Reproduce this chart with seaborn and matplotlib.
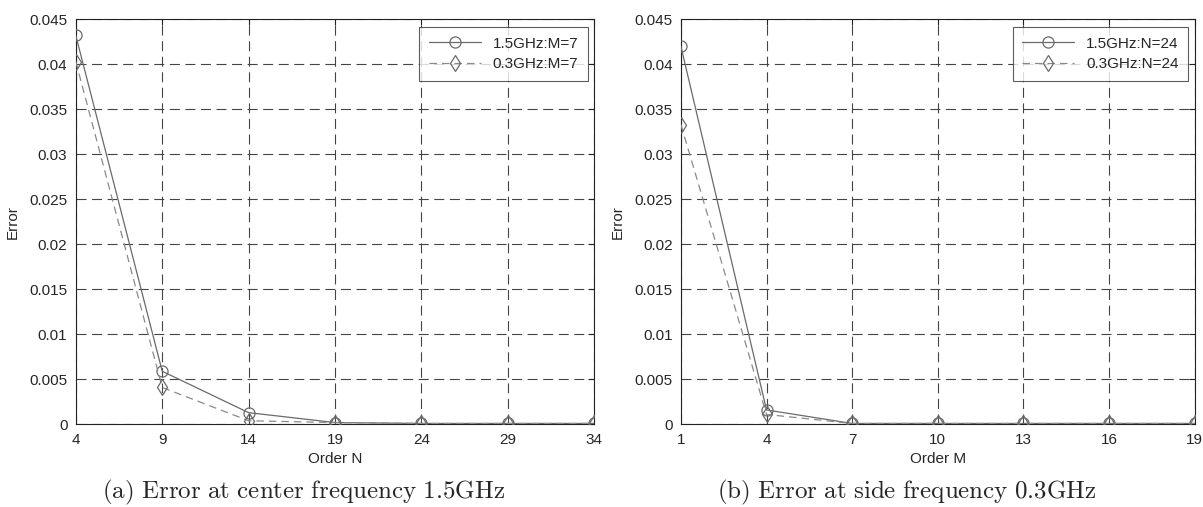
import pandas as pd
import matplotlib
matplotlib.use("Agg")
import matplotlib.pyplot as plt
import seaborn as sns

# data
order_n = [4, 9, 14, 19, 24, 29, 34]
err_n_15 = [0.0432, 0.0059, 0.0013, 0.0002, 0.0001, 0.0001, 0.0001]
err_n_03 = [0.0403, 0.0041, 0.0004, 0.0002, 0.0001, 0.0001, 0.0001]

order_m = [1, 4, 7, 10, 13, 16, 19]
err_m_15 = [0.0420, 0.0016, 0.0001, 0.0001, 0.0001, 0.0001, 0.0001]
err_m_03 = [0.0333, 0.0011, 0.0001, 0.0001, 0.0001, 0.0001, 0.0001]

labels_left = ["1.5GHz:M=7", "0.3GHz:M=7"]
labels_right = ["1.5GHz:N=24", "0.3GHz:N=24"]
y_ticks = [0, 0.005, 0.01, 0.015, 0.02, 0.025, 0.03, 0.035, 0.04, 0.045]
captions = ["(a) Error at center frequency 1.5GHz", "(b) Error at side frequency 0.3GHz"]

sns.set_style("white")
plt.rcParams["font.family"] = ["Liberation Sans", "DejaVu Sans"]
plt.rcParams["mathtext.fontset"] = "cm"


def draw(ax, x, y1, y2, names, xlabel, caption):
    # solid line with open circles
    sns.lineplot(x=x, y=y1, ax=ax, label=names[0], color="#6a6a6a",
                 linestyle="-", linewidth=0.9, marker="o", markersize=8,
                 markerfacecolor="none", markeredgecolor="#6a6a6a",
                 markeredgewidth=0.9, zorder=3)
    # dashed line with open diamonds
    sns.lineplot(x=x, y=y2, ax=ax, label=names[1], color="#8a8a8a",
                 linestyle=(0, (6, 4)), linewidth=0.9, marker="d", markersize=8,
                 markerfacecolor="none", markeredgecolor="#6a6a6a",
                 markeredgewidth=0.9, zorder=3)
    ax.set_xlim(x[0], x[-1])
    ax.set_ylim(0, 0.045)
    ax.set_xticks(x)
    ax.set_yticks(y_ticks)
    ax.set_yticklabels(["0"] + [f"{v:g}" for v in y_ticks[1:]])
    ax.grid(True, color="#444444", linestyle=(0, (9, 5)), linewidth=0.8)
    ax.tick_params(direction="in", top=True, right=True, length=4,
                   labelsize=11, color="#222222", pad=6)
    for s in ax.spines.values():
        s.set_color("#222222")
        s.set_linewidth(0.8)
    ax.set_xlabel(xlabel, fontsize=11, labelpad=4)
    ax.set_ylabel("Error", fontsize=11, labelpad=7)
    leg = ax.legend(loc="upper right", fontsize=11, frameon=True, fancybox=False,
                    edgecolor="#333333", borderpad=0.6, handlelength=3.4,
                    labelspacing=0.45, borderaxespad=0,
                    bbox_to_anchor=(0.987, 0.98))
    leg.get_frame().set_linewidth(0.8)
    ax.text(0.44, -0.168, r"$\mathrm{" + caption.replace(" ", r"\ ") + "}$",
            transform=ax.transAxes, ha="center", va="center", fontsize=18)


fig = plt.figure(figsize=(12.03, 5.07), dpi=100)
ax1 = fig.add_axes([0.063, 0.163, 0.431, 0.799])
ax2 = fig.add_axes([0.566, 0.163, 0.427, 0.799])

draw(ax1, order_n, err_n_15, err_n_03, labels_left, "Order N", captions[0])
draw(ax2, order_m, err_m_15, err_m_03, labels_right, "Order M", captions[1])

fig.savefig("out.png", dpi=100)
